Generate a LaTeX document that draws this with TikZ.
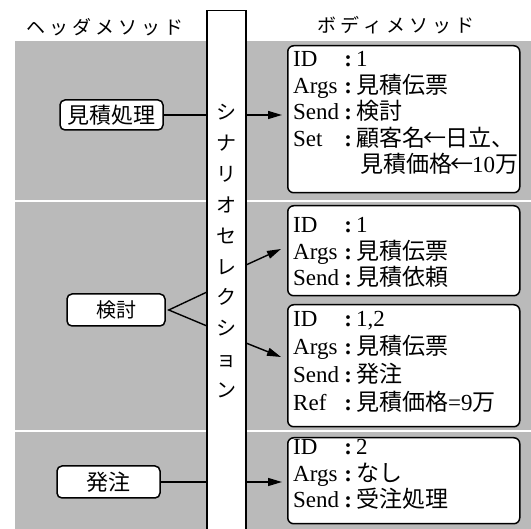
\documentclass[tikz,border=0pt]{standalone}
\usepackage{fontspec}
\setmainfont{Liberation Serif}
\newfontfamily\jp{Noto Sans CJK JP}
\usetikzlibrary{arrows.meta}
\definecolor{stip}{gray}{0.73}
\newcommand\gp{\hspace{4pt}}
\newcommand\lbl[1]{\makebox[47pt][l]{#1}\makebox[16pt][c]{\textbf{:}}}
\newcommand\larr{\makebox[20pt][c]{\jp ←}}
\begin{document}
\begin{tikzpicture}[x=1pt,y=-1pt,
  hbox/.style={draw, line width=1.5pt, rounded corners=5pt, fill=white, font=\jp\fontsize{22}{22}\selectfont, inner sep=0pt},
  bbox/.style={draw, line width=1.5pt, rounded corners=6pt, fill=white, inner sep=0pt, anchor=north west, minimum width=232pt},
  btext/.style={anchor=base west, inner sep=0pt, font=\fontsize{23}{26.5}\selectfont},
  conn/.style={line width=1.4pt},
  arr/.style={line width=1.4pt, -{Triangle[length=14pt,width=8pt]}},
  hdr/.style={font=\jp\fontsize{19}{19}\selectfont, inner sep=0pt}]
\clip (0,0) rectangle (531,529);
\fill[stip] (15,41) rectangle (531,529);
\draw[white, line width=2.5pt] (15,201) -- (531,201) (15,431) -- (531,431);

% headers
\node[hdr] (hh) at (105,27) {ヘ\gp ッ\gp ダ\gp メ\gp ソ\gp ッ\gp ド};
\node[hdr] (bh) at (396,25) {ボ\gp デ\gp ィ\gp メ\gp ソ\gp ッ\gp ド};

% scenario selection column
\node[draw, line width=1.4pt, fill=white, minimum width=39pt, minimum height=560pt, anchor=north, inner sep=0pt] (col) at (226.5,10) {};
\node[inner sep=0pt, anchor=base, font=\jp\fontsize{20}{30.9}\selectfont] (ct) at (226.5,119.6)
  {\parbox[t]{24pt}{\centering シ\\ナ\\リ\\オ\\セ\\レ\\ク\\シ\\ョ\\ン}};

% header methods
\node[hbox, minimum width=103pt, minimum height=30pt] (mitsu) at (111.5,115) {見積処理};
\node[hbox, minimum width=98pt, minimum height=32pt, font=\jp\fontsize{20}{20}\selectfont] (ken) at (116,310) {検討};
\node[hbox, minimum width=103pt, minimum height=32pt] (hat) at (108.5,482) {発注};

% body methods
\node[bbox, minimum height=147pt] (b1) at (287,45) {};
\node[bbox, minimum height=90pt] (b2) at (287,205) {};
\node[bbox, minimum height=122pt] (b3) at (287,304) {};
\node[bbox, minimum height=86pt] (b4) at (287,437) {};

\node[btext] (t1) at (293,67) {\parbox[t]{224pt}{%
  \lbl{ID}1\\
  \lbl{Args}{\jp 見積伝票}\\
  \lbl{Send}{\jp 検討}\\
  \lbl{Set}{\jp 顧客名}\larr{\jp 日立、}\\
  \hspace*{67pt}{\jp 見積価格}\larr 10{\jp 万}}};
\node[btext] (t2) at (293,233) {\parbox[t]{224pt}{%
  \lbl{ID}1\\
  \lbl{Args}{\jp 見積伝票}\\
  \lbl{Send}{\jp 見積依頼}}};
\node[btext, font=\fontsize{23}{27.7}\selectfont] (t3) at (293,327) {\parbox[t]{224pt}{%
  \lbl{ID}1,2\\
  \lbl{Args}{\jp 見積伝票}\\
  \lbl{Send}{\jp 発注}\\
  \lbl{Ref}{\jp 見積価格}=9{\jp 万}}};
\node[btext] (t4) at (293,455) {\parbox[t]{224pt}{%
  \lbl{ID}2\\
  \lbl{Args}{\jp なし}\\
  \lbl{Send}{\jp 受注処理}}};

% connectors
\draw[conn] (mitsu.east) -- (mitsu.east -| col.west);
\draw[arr, shorten >=5pt] (mitsu.east -| col.east) -- (mitsu.east -| b1.west);

\coordinate (ku) at (207,292);
\coordinate (kl) at (207,326);
\coordinate (kv) at ([xshift=3pt]ken.east);
\draw[conn] (ku) -- (kv) -- (kl);
\coordinate (au) at (246,265);
\coordinate (tu) at (281,249);
\coordinate (al) at (246,343);
\coordinate (tl) at (281,357);
\draw[arr] (au) -- (tu);
\draw[arr] (al) -- (tl);

\draw[conn] (hat.east) -- (hat.east -| col.west);
\draw[arr, shorten >=5pt] (hat.east -| col.east) -- (hat.east -| b4.west);
\end{tikzpicture}
\end{document}
